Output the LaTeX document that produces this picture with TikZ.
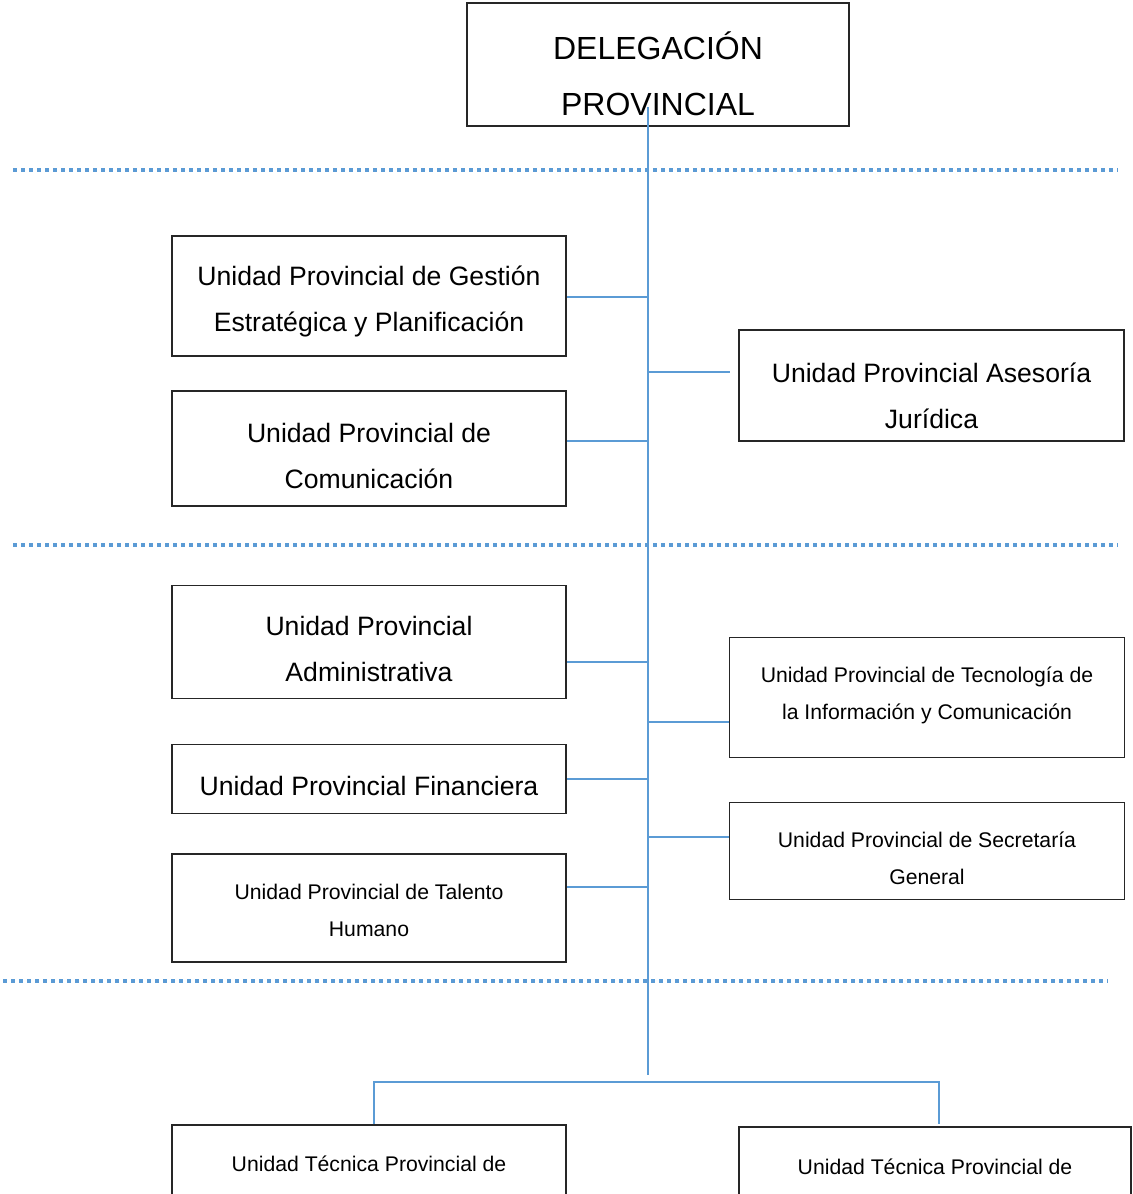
\documentclass[tikz,border=0pt]{standalone}
\usepackage{fontspec}
\setmainfont{Liberation Sans}
\definecolor{chartblue}{RGB}{91,155,213}

\begin{document}
\begin{tikzpicture}[
        x=0.5pt, y=-0.5pt,
        unitnode/.style={rectangle, draw=black!85, line width=0.7pt, fill=white, inner sep=0pt, minimum width=197pt},
        headtext/.style={align=center, font=\fontsize{16}{28}\selectfont},
        bigtext/.style={align=center, font=\fontsize{13.3}{23}\selectfont},
        smalltext/.style={align=center, font=\fontsize{10.6}{18.3}\selectfont},
        linkline/.style={draw=chartblue, line width=1pt},
        levelline/.style={draw=chartblue, line width=2pt, dash pattern=on 2pt off 2pt},
        ]

        % Frame
        \useasboundingbox (0,0) rectangle (1133,1194);
        \clip (0,0) rectangle (1133,1194);

        % Level lines
        \draw[levelline] (13,170) -- (1118,170);
        \draw[levelline] (13,545) -- (1118,545);
        \draw[levelline] (3,981) -- (1108,981);

        % Head
        \node[unitnode, minimum width=191pt, minimum height=61.5pt,
              label={[headtext, yshift=-5.75pt]center:{\strut DELEGACIÓN\\\strut PROVINCIAL}}] (dele) at (658,64.5) {};

        % Advisory units
        \node[unitnode, minimum height=60pt,
              label={[bigtext, yshift=-1.7pt]center:{\strut Unidad Provincial de Gestión\\\strut Estratégica y Planificación}}] (gest) at (369,296) {};
        \node[unitnode, minimum height=57.5pt,
              label={[bigtext, yshift=-3.65pt]center:{\strut Unidad Provincial de\\\strut Comunicación}}] (comu) at (369,448.5) {};
        \node[unitnode, minimum width=192.5pt, minimum height=55.5pt,
              label={[bigtext, yshift=-5.15pt]center:{\strut Unidad Provincial Asesoría\\\strut Jurídica}}] (ases) at (931.5,385.5) {};

        % Support units
        \node[unitnode, minimum height=56.5pt,
              label={[bigtext, yshift=-3.85pt]center:{\strut Unidad Provincial\\\strut Administrativa}}] (admi) at (369,641.7) {};
        \node[unitnode, minimum height=34.5pt,
              label={[bigtext, yshift=-3.5pt]center:{\strut Unidad Provincial Financiera}}] (fina) at (369,778.8) {};
        \node[unitnode, minimum height=54pt,
              label={[smalltext, yshift=-1.45pt]center:{\strut Unidad Provincial de Talento\\\strut Humano}}] (tale) at (369,907.8) {};
        \node[unitnode, minimum width=197.5pt, minimum height=60pt,
              label={[smalltext, yshift=1.9pt]center:{\strut Unidad Provincial de Tecnología de\\\strut la Información y Comunicación}}] (tecn) at (927,697.5) {};
        \node[unitnode, minimum width=197.5pt, minimum height=48.5pt,
              label={[smalltext, yshift=-4.05pt]center:{\strut Unidad Provincial de Secretaría\\\strut General}}] (secr) at (927,850.8) {};

        % Technical units
        \node[unitnode, minimum height=70pt,
              label={[smalltext, yshift=15.5pt]center:{\strut Unidad Técnica Provincial de}}] (tecl) at (369,1195) {};
        \node[unitnode, minimum width=196pt, minimum height=70pt,
              label={[smalltext, yshift=15.15pt]center:{\strut Unidad Técnica Provincial de}}] (tecr) at (935,1197) {};

        % Trunk
        \coordinate (top) at (648,107);
        \coordinate (bot) at (648,1075);
        \draw[linkline] (top) -- (bot);

        % Junctions
        \coordinate (jgest) at (648,296.7);
        \coordinate (jases) at (648,372);
        \coordinate (jcomu) at (648,440.7);
        \coordinate (jadmi) at (648,661.7);
        \coordinate (jtecn) at (648,721.7);
        \coordinate (jfina) at (648,779);
        \coordinate (jsecr) at (648,836.7);
        \coordinate (jtale) at (648,886.7);
        \coordinate (asesin) at (730,372);

        % Left branches
        \draw[linkline] (jgest) -- (jgest -| gest.east);
        \draw[linkline] (jcomu) -- (jcomu -| comu.east);
        \draw[linkline] (jadmi) -- (jadmi -| admi.east);
        \draw[linkline] (jfina) -- (jfina -| fina.east);
        \draw[linkline] (jtale) -- (jtale -| tale.east);

        % Right branches
        \draw[linkline] (jases) -- (asesin);
        \draw[linkline] (jtecn) -- (jtecn -| tecn.west);
        \draw[linkline] (jsecr) -- (jsecr -| secr.west);

        % Split to technical units
        \coordinate (sl) at (374,1081.7);
        \coordinate (sr) at (939,1081.7);
        \draw[linkline] (sl |- tecl.north) -- (sl) -- (sr) -- (sr |- tecl.north);

    \end{tikzpicture}
\end{document}
